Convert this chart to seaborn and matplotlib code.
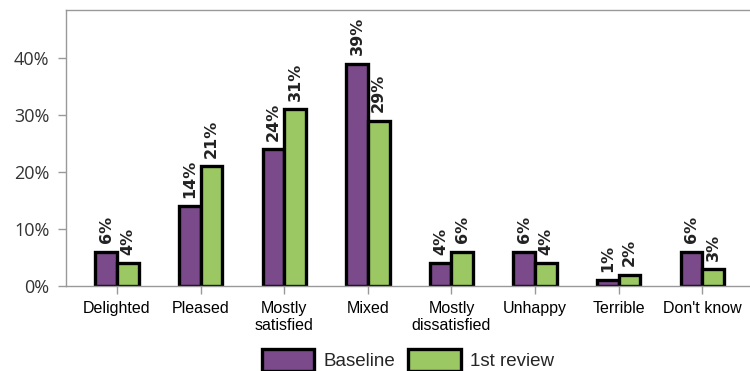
import matplotlib
matplotlib.use("Agg")
import matplotlib.pyplot as plt
import seaborn as sns
import pandas as pd
from matplotlib.ticker import FuncFormatter

categories = ["Delighted", "Pleased", "Mostly\nsatisfied", "Mixed", "Mostly\ndissatisfied",
              "Unhappy", "Terrible", "Don't know"]
baseline = [6, 14, 24, 39, 4, 6, 1, 6]
review1 = [4, 21, 31, 29, 6, 4, 2, 3]
series_names = ["Baseline", "1st review"]
colors = ["#7B4A8A", "#9BC862"]

df = pd.DataFrame({
    "cat": categories * 2,
    "val": baseline + review1,
    "series": [series_names[0]] * len(categories) + [series_names[1]] * len(categories),
})

sns.set_style("white")
plt.rcParams['font.family'] = ['Liberation Sans', 'DejaVu Sans']

fig = plt.figure(figsize=(7.5, 3.71), dpi=100)
ax = fig.add_axes([0.088, 0.229, 0.912, 0.744])

sns.barplot(data=df, x="cat", y="val", hue="series", palette=colors, ax=ax,
            width=0.52, edgecolor="black", linewidth=2.4, legend=True, saturation=1)

for cont in ax.containers:
    for bar in cont:
        h = bar.get_height()
        ax.annotate(f"{int(round(h))}%", (bar.get_x() + bar.get_width() / 2, h),
                    xytext=(0, 6), textcoords="offset points", rotation=90,
                    ha="center", va="bottom", fontsize=11.5, fontweight="bold",
                    color="#222222", family="DejaVu Sans")

ax.set_ylim(0, 48.4)
ax.set_xlim(-0.61, 7.57)
ax.set_yticks([0, 10, 20, 30, 40])
ax.yaxis.set_major_formatter(FuncFormatter(lambda v, p: f"{int(v)}%"))
ax.set_xlabel("")
ax.set_ylabel("")
ax.tick_params(axis="y", labelsize=13, length=6, width=1, left=True, pad=6,
               color="#999999", labelcolor="#333333")
ax.tick_params(axis="x", labelsize=11.5, length=6, width=1, bottom=True,
               color="#999999", labelcolor="black", pad=5)
for lab in ax.get_yticklabels():
    lab.set_family("Open Sans")
for lab in ax.get_xticklabels():
    lab.set_linespacing(1.15)

for s in ["top", "left", "bottom"]:
    ax.spines[s].set_visible(True)
    ax.spines[s].set_color("#999999")
    ax.spines[s].set_linewidth(1)
ax.spines["right"].set_visible(False)

leg = ax.legend(loc="upper center", bbox_to_anchor=(0.5, -0.228), ncol=2, frameon=False,
                handlelength=2.8, handleheight=1.4, columnspacing=0.7,
                handletextpad=0.5, borderaxespad=0, borderpad=0,
                prop={"family": "Liberation Sans", "size": 13.5})

fig.savefig("out.png", dpi=100)
